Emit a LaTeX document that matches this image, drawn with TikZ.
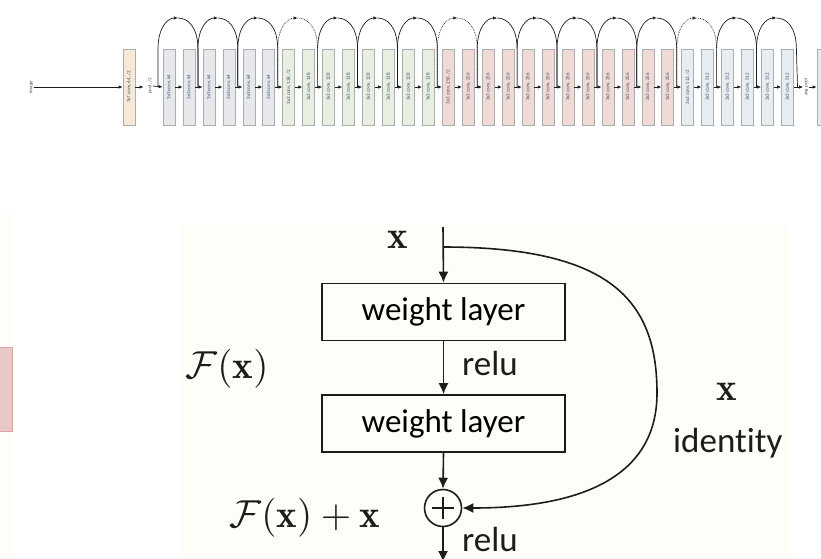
\documentclass[tikz,border=0pt]{standalone}
\usepackage{fontspec}
\newfontfamily\calib[Ligatures=NoCommon]{Carlito}
\usetikzlibrary{arrows.meta}
\definecolor{cseven}{HTML}{F7E9D6}
\definecolor{cfour}{HTML}{E6E8EC}
\definecolor{cone}{HTML}{E8EEE2}
\definecolor{ctwo}{HTML}{F0DAD6}
\definecolor{cfive}{HTML}{E7EDF0}
\definecolor{boxline}{HTML}{A9AEB0}
\definecolor{labtext}{HTML}{3B4F66}
\definecolor{ink}{HTML}{1C1C1C}
\definecolor{faint}{HTML}{FEFEF9}
\definecolor{pinkfill}{HTML}{E9C9C7}
\definecolor{pinkline}{HTML}{D8A6A4}
\newcommand{\bigmath}[1]{\scalebox{3.9}{$#1$}}
\begin{document}
\begin{tikzpicture}[x=1pt,y=-1pt,
  convbox/.style={draw=boxline, line width=0.6pt, minimum width=12pt, minimum height=76pt, inner sep=0pt},
  lab/.style={rotate=90, inner sep=0.5pt, font=\calib\fontsize{5}{6}\selectfont, text=labtext},
  marr/.style={draw=ink, line width=0.7pt, -{Latex[length=4pt,width=3.4pt]}},
  arcline/.style={draw=ink, line width=0.7pt},
  barr/.style={draw=ink, line width=1.6pt, -{Latex[length=11pt,width=10pt]}},
  wbox/.style={draw=ink, line width=1.6pt, minimum width=243pt, minimum height=57pt, inner sep=0pt, font=\calib\fontsize{33}{36}\selectfont},
  sanslab/.style={font=\calib\fontsize{35}{38}\selectfont, text=ink, inner sep=0pt},
  mathlab/.style={text=ink, inner sep=0pt}
]
\useasboundingbox (0,0) rectangle (821,558);
% faint backgrounds of the lower panels
\fill[faint] (0,215) rectangle (14,558);
\fill[faint] (182,225) rectangle (790,558);
\draw[pinkline, fill=pinkfill, line width=1pt] (-2,347) rectangle (12,431);

% ---------- top: ResNet-34 ----------
\node[lab] (img) at (31,87) {image};
\node[convbox, fill=cseven] (c7) at (129,87) {};
\node[lab] at (c7) {7x7 conv, 64, /2};
\node[lab] (pool) at (150,86) {pool, /2};
\coordinate (pa) at (143.5,87);
\draw[marr] (img.south) -- (c7.west);
\draw[marr] (c7.east) -- (pa);

\foreach \i/\col/\t in {1/cfour/64, 2/cfour/64, 3/cfour/64, 4/cfour/64, 5/cfour/64, 6/cfour/64,
  7/cone/{128, /2}, 8/cone/128, 9/cone/128, 10/cone/128, 11/cone/128, 12/cone/128, 13/cone/128, 14/cone/128,
  15/ctwo/{256, /2}, 16/ctwo/256, 17/ctwo/256, 18/ctwo/256, 19/ctwo/256, 20/ctwo/256, 21/ctwo/256, 22/ctwo/256,
  23/ctwo/256, 24/ctwo/256, 25/ctwo/256, 26/ctwo/256,
  27/cfive/{512, /2}, 28/cfive/512, 29/cfive/512, 30/cfive/512, 31/cfive/512, 32/cfive/512}{
  \pgfmathsetmacro\xx{169+(\i-1)*19.95}
  \pgfmathsetmacro\xj{158+(\i-1)*19.95}
  \node[convbox, fill=\col] (b\i) at (\xx,87) {};
  \node[lab] at (b\i) {3x3 conv, \t};
  \coordinate (j\i) at (\xj,87);
}
\coordinate (j33) at (797.5,87);

\draw[marr] (pool.south) -- (b1.west);
\foreach \i in {1,...,31}{
  \pgfmathtruncatemacro\j{\i+1}
  \draw[marr] (b\i.east) -- (b\j.west);
}

\node[lab] (avg) at (806,87) {avg pool};
\node[convbox, fill=cfour] (fc) at (823,87) {};
\draw[marr] (b32.east) -- (avg.north);
\draw[marr] (avg.south) -- (fc.west);

% skip connections
\foreach \k/\st in {0/solid,1/solid,2/solid,3/densely dotted,4/solid,5/solid,6/solid,7/densely dotted,
  8/solid,9/solid,10/solid,11/solid,12/solid,13/densely dotted,14/solid,15/solid}{
  \pgfmathtruncatemacro\a{2*\k+1}
  \pgfmathtruncatemacro\b{2*\k+3}
  \draw[arcline, \st, -{Latex[length=4pt,width=3.4pt]}] (j\a) -- ++(0,-38)
     .. controls +(0,-22) and +(-10,0) .. ++(19.95,-31) coordinate (pk\k);
  \draw[arcline, \st] (pk\k) .. controls +(10,0) and +(0,-22) .. ++(19.95,31) -- (j\b);
}

% ---------- bottom: residual block ----------
\coordinate (xin) at (443,227);
\coordinate (split) at (443,247);
\node[mathlab] (xtop) at (398,240) {\bigmath{\mathbf{x}}};
\node[wbox] (w1) at (443.5,312) {weight layer};
\node[wbox] (w2) at (443.5,423.5) {weight layer};
\node[draw=ink, line width=1.6pt, circle, minimum size=37pt, inner sep=0pt] (plus) at (443,508) {};
\draw[ink, line width=1.6pt] ([yshift=-11pt]plus.center) -- ([yshift=11pt]plus.center)
   ([xshift=-11pt]plus.center) -- ([xshift=11pt]plus.center);
\coordinate (out) at (443,562);

\draw[barr] (xin) -- (w1.north);
\draw[barr] (w1.south) -- (w2.north);
\draw[barr] (w2.south) -- (plus.north);
\draw[barr] (plus.south) -- (out);
\draw[barr] (split) .. controls (610,247) and (657,300) .. (657,393)
   .. controls (657,472) and (590,508) .. (plus.east);

\node[sanslab, anchor=base west] (r1) at (462,375) {relu};
\node[sanslab, anchor=base west] (r2) at (462,551) {relu};
\node[mathlab] (xid) at (727,392) {\bigmath{\mathbf{x}}};
\node[sanslab, anchor=base west] (idl) at (673,452) {identity};
\node[mathlab] (fx) at (227,369) {\bigmath{\mathcal{F}(\mathbf{x})}};
\node[mathlab] (fxx) at (305,518) {\bigmath{\mathcal{F}(\mathbf{x})+\mathbf{x}}};
\end{tikzpicture}
\end{document}
